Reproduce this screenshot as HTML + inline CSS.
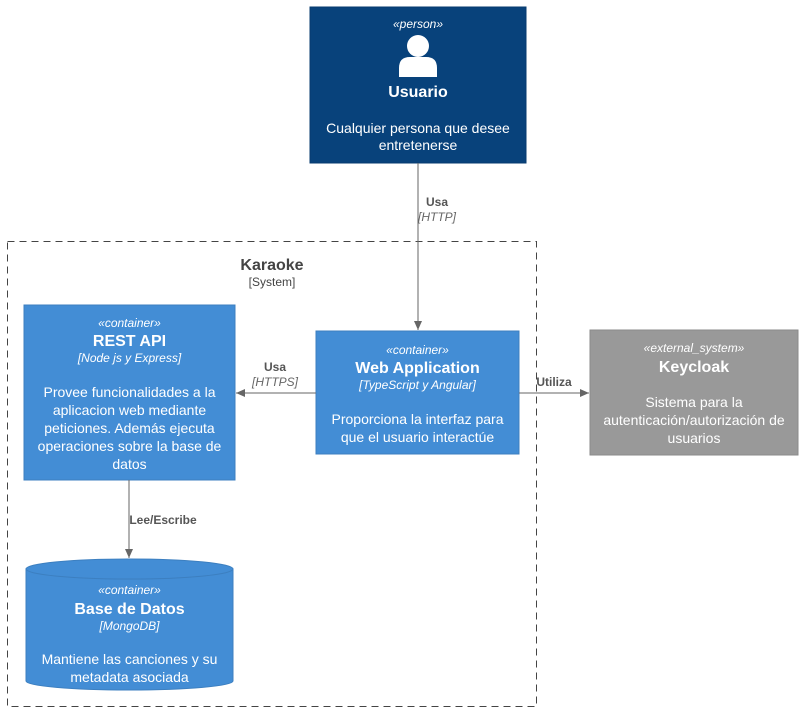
<!DOCTYPE html>
<html><head><meta charset="utf-8"><style>body{margin:0;background:#fff}svg{display:block}text{font-family:"Liberation Sans",sans-serif}</style></head><body>
<svg width="803" height="711" viewBox="0 0 803 711" xmlns="http://www.w3.org/2000/svg">
<defs><marker id="a" markerWidth="10" markerHeight="10" refX="9" refY="5" orient="auto" markerUnits="userSpaceOnUse"><path d="M0,1 L9,5 L0,9 Z" fill="#666"/></marker></defs>
<rect x="7.5" y="241.5" width="529" height="465" fill="none" stroke="#444" stroke-dasharray="7,5"/>
<text x="272" y="270" text-anchor="middle" font-size="16" font-weight="bold" fill="#444">Karaoke</text>
<text x="272" y="286" text-anchor="middle" font-size="12" fill="#444">[System]</text>
<!-- Usuario -->
<rect x="310" y="7" width="216" height="156" fill="#08427B" stroke="#073B6F"/>
<text x="418" y="28" text-anchor="middle" font-size="12" font-style="italic" fill="#fff">«person»</text>
<circle cx="418" cy="46" r="11" fill="#fff"/>
<path d="M399,77 L399,68 Q399,57 410,57 L426,57 Q437,57 437,68 L437,77 Z" fill="#fff"/>
<text x="418" y="97" text-anchor="middle" font-size="16" font-weight="bold" fill="#fff">Usuario</text>
<text x="418" y="133" text-anchor="middle" font-size="14" fill="#fff">Cualquier persona que desee</text>
<text x="418" y="150" text-anchor="middle" font-size="14" fill="#fff">entretenerse</text>
<!-- REST API -->
<rect x="24" y="305" width="211" height="175" fill="#438DD5" stroke="#3C7FC0"/>
<text x="129.5" y="327" text-anchor="middle" font-size="12" font-style="italic" fill="#fff">«container»</text>
<text x="129.5" y="346" text-anchor="middle" font-size="16" font-weight="bold" fill="#fff">REST API</text>
<text x="129.5" y="362" text-anchor="middle" font-size="12" font-style="italic" fill="#fff">[Node js y Express]</text>
<text x="129.5" y="397" text-anchor="middle" font-size="14" fill="#fff">Provee funcionalidades a la</text>
<text x="129.5" y="415" text-anchor="middle" font-size="14" fill="#fff">aplicacion web mediante</text>
<text x="129.5" y="433" text-anchor="middle" font-size="14" fill="#fff">peticiones. Además ejecuta</text>
<text x="129.5" y="451" text-anchor="middle" font-size="14" fill="#fff">operaciones sobre la base de</text>
<text x="129.5" y="469" text-anchor="middle" font-size="14" fill="#fff">datos</text>
<!-- Web App -->
<rect x="316" y="331" width="203" height="123" fill="#438DD5" stroke="#3C7FC0"/>
<text x="417.5" y="354" text-anchor="middle" font-size="12" font-style="italic" fill="#fff">«container»</text>
<text x="417.5" y="373" text-anchor="middle" font-size="16" font-weight="bold" fill="#fff">Web Application</text>
<text x="417.5" y="389" text-anchor="middle" font-size="12" font-style="italic" fill="#fff">[TypeScript y Angular]</text>
<text x="417.5" y="424" text-anchor="middle" font-size="14" fill="#fff">Proporciona la interfaz para</text>
<text x="417.5" y="442" text-anchor="middle" font-size="14" fill="#fff">que el usuario interactúe</text>
<!-- Keycloak -->
<rect x="590" y="330" width="208" height="125" fill="#999999" stroke="#8A8A8A"/>
<text x="694" y="352" text-anchor="middle" font-size="12" font-style="italic" fill="#fff">«external_system»</text>
<text x="694" y="372" text-anchor="middle" font-size="16" font-weight="bold" fill="#fff">Keycloak</text>
<text x="694" y="407" text-anchor="middle" font-size="14" fill="#fff">Sistema para la</text>
<text x="694" y="425" text-anchor="middle" font-size="14" fill="#fff">autenticación/autorización de</text>
<text x="694" y="443" text-anchor="middle" font-size="14" fill="#fff">usuarios</text>
<!-- DB -->
<path d="M26,569 L26,681 A103.5,9 0 0 0 233,681 L233,569" fill="#438DD5" stroke="#3C7FC0"/>
<ellipse cx="129.5" cy="569" rx="103.5" ry="10" fill="#438DD5" stroke="#3C7FC0"/>
<text x="129.5" y="594" text-anchor="middle" font-size="12" font-style="italic" fill="#fff">«container»</text>
<text x="129.5" y="614" text-anchor="middle" font-size="16" font-weight="bold" fill="#fff">Base de Datos</text>
<text x="129.5" y="630" text-anchor="middle" font-size="12" font-style="italic" fill="#fff">[MongoDB]</text>
<text x="129.5" y="664" text-anchor="middle" font-size="14" fill="#fff">Mantiene las canciones y su</text>
<text x="129.5" y="682" text-anchor="middle" font-size="14" fill="#fff">metadata asociada</text>
<!-- arrows -->
<line x1="418" y1="163" x2="418" y2="330" stroke="#666" marker-end="url(#a)"/>
<text x="437" y="206" text-anchor="middle" font-size="12" font-weight="bold" fill="#555">Usa</text>
<text x="437" y="221" text-anchor="middle" font-size="12" font-style="italic" fill="#666">[HTTP]</text>
<line x1="316" y1="393" x2="236" y2="393" stroke="#666" marker-end="url(#a)"/>
<text x="275" y="371" text-anchor="middle" font-size="12" font-weight="bold" fill="#555">Usa</text>
<text x="275" y="386" text-anchor="middle" font-size="12" font-style="italic" fill="#666">[HTTPS]</text>
<line x1="519" y1="393" x2="589" y2="393" stroke="#666" marker-end="url(#a)"/>
<text x="554" y="386" text-anchor="middle" font-size="12" font-weight="bold" fill="#555">Utiliza</text>
<line x1="129" y1="480" x2="129" y2="558" stroke="#666" marker-end="url(#a)"/>
<text x="163" y="524" text-anchor="middle" font-size="12" font-weight="bold" fill="#555">Lee/Escribe</text>
</svg>
</body></html>
